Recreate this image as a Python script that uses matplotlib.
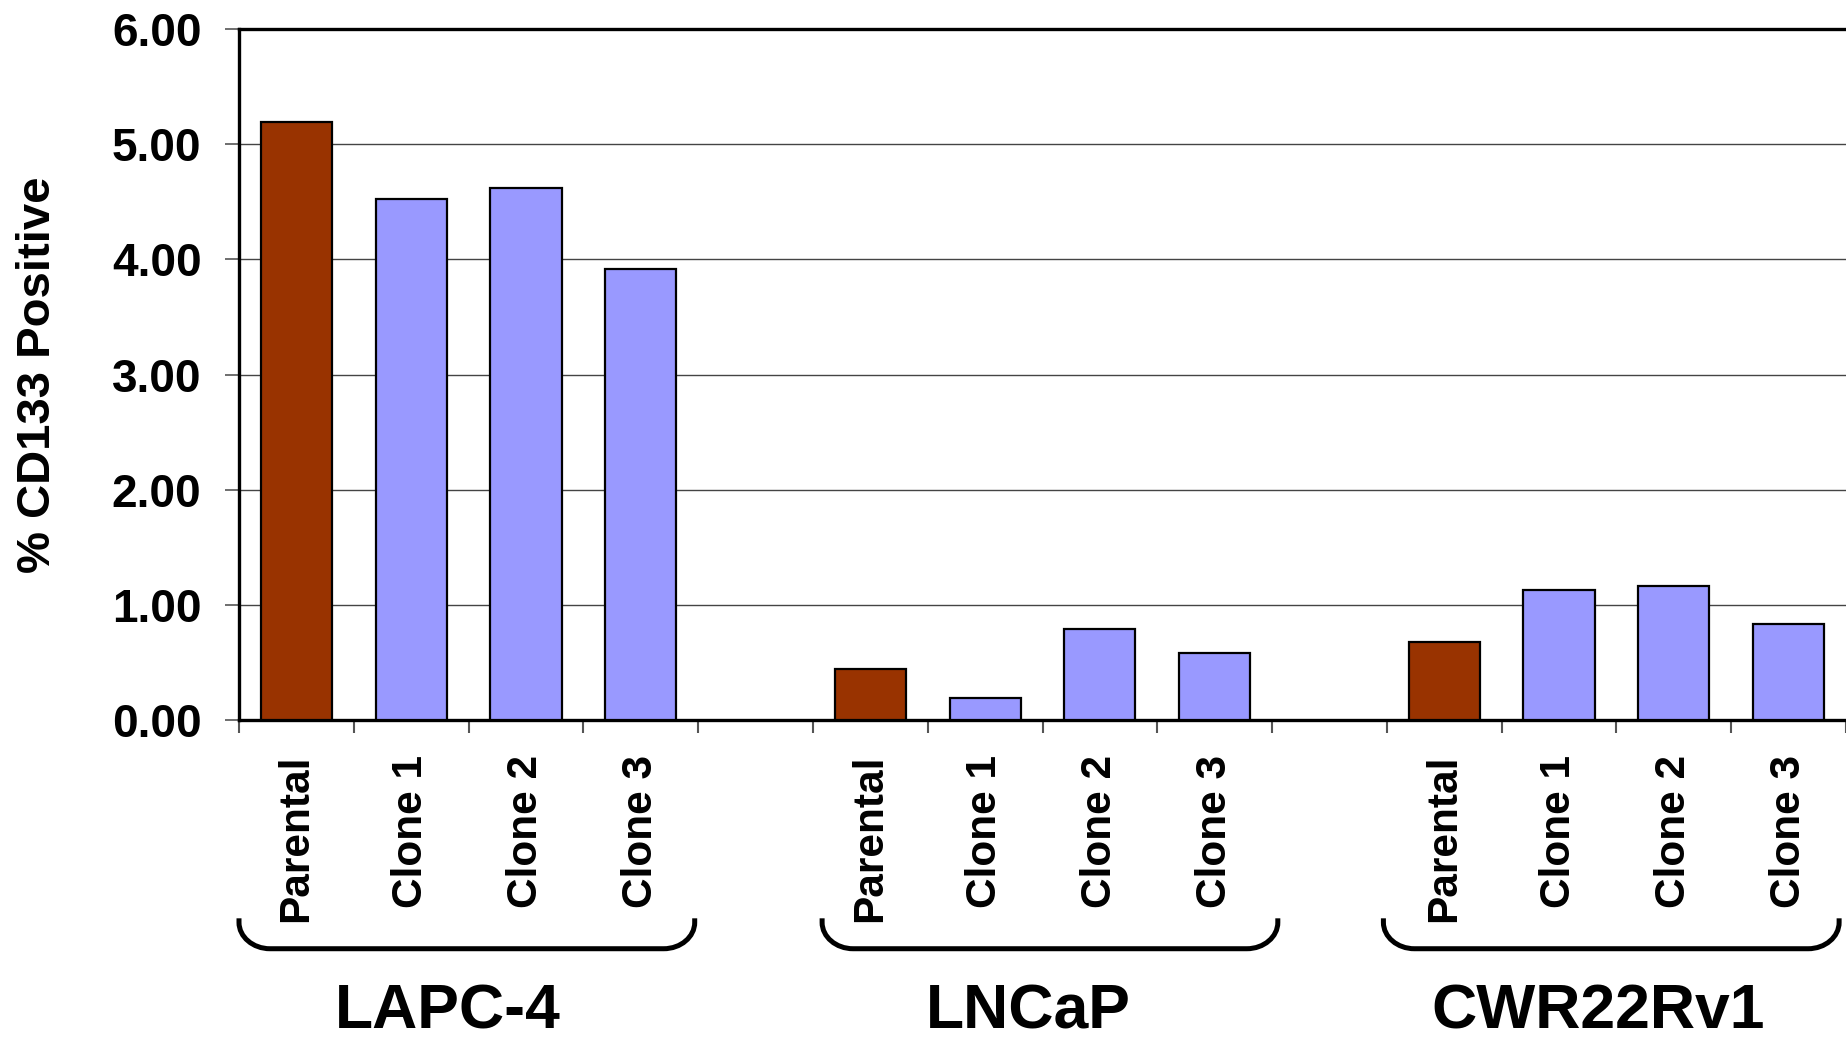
import matplotlib.pyplot as plt
from matplotlib.path import Path
from matplotlib.patches import PathPatch

plt.rcParams["font.family"] = ["Liberation Sans", "DejaVu Sans"]
plt.rcParams["font.weight"] = "bold"

groups = ["LAPC-4", "LNCaP", "CWR22Rv1"]
samples = ["Parental", "Clone 1", "Clone 2", "Clone 3"]
lapc4 = [5.19, 4.52, 4.62, 3.92]
lncap = [0.44, 0.19, 0.79, 0.585]
cwr22rv1 = [0.68, 1.13, 1.16, 0.83]
yticks = [0, 1, 2, 3, 4, 5, 6]

PARENTAL = "#993300"
CLONE = "#9999FF"

# bracket start and label shift (data x) for each group
bracket_x0 = [-0.5, 4.58, 9.47]
label_shift = [-0.18, -0.12, -0.16]

fig = plt.figure(figsize=(18.46, 10.39), dpi=100)
ax = fig.add_axes([239 / 1846, 1 - 720 / 1039, 1 - 239 / 1846, (720 - 29) / 1039])

# each group takes 4 slots, followed by one empty slot
positions, labels = [], []
for g, vals in enumerate([lapc4, lncap, cwr22rv1]):
    xs = [g * 5 + i for i in range(len(samples))]
    colors = [PARENTAL] + [CLONE] * (len(samples) - 1)
    ax.bar(xs, vals, width=0.62, color=colors, edgecolor="black", linewidth=1.6, zorder=3)
    positions += xs
    labels += samples

ax.set_xlim(-0.5, -0.5 + (1846 - 239) / 116.1)
ax.set_ylim(0, 6)
ax.set_yticks(yticks)
ax.set_yticklabels([f"{v:.2f}" for v in yticks], fontsize=33, fontweight="bold")
ax.yaxis.grid(True, color="#444444", linewidth=1.0, zorder=0)
ax.tick_params(axis="y", length=10, width=1.2, color="#555555", pad=17, direction="out")

# boundary ticks between categories, labels at the centres
ax.set_xticks([x - 0.5 for x in range(15)])
ax.set_xticklabels([])
ax.tick_params(axis="x", which="major", length=9, width=1.5, color="#555555", direction="out")
ax.set_xticks(positions, minor=True)
ax.set_xticklabels(labels, minor=True, rotation=90, va="top", ha="center",
                   fontsize=30.5, fontweight="bold")
ax.tick_params(axis="x", which="minor", length=0, pad=25)

for side in ["left", "bottom", "top"]:
    ax.spines[side].set_linewidth(2.4)
    ax.spines[side].set_color("black")
ax.spines["right"].set_visible(False)

fig.text(38 / 1846, 1 - 374.5 / 1039, "% CD133 Positive", rotation=90, ha="center",
         va="center", fontsize=34, fontweight="bold")

# group brackets and names below the tick labels
trans = ax.get_xaxis_transform()
y_top, y_bot = -0.287, -0.331
rx, ry = 0.27, 0.038
k = 0.55
for g, name in enumerate(groups):
    x0 = bracket_x0[g]
    x1 = x0 + 3.97
    verts = [
        (x0, y_top), (x0, y_bot + ry),
        (x0, y_bot + ry * (1 - k)), (x0 + rx * (1 - k), y_bot), (x0 + rx, y_bot),
        (x1 - rx, y_bot),
        (x1 - rx * (1 - k), y_bot), (x1, y_bot + ry * (1 - k)), (x1, y_bot + ry),
        (x1, y_top),
    ]
    codes = [Path.MOVETO, Path.LINETO, Path.CURVE4, Path.CURVE4, Path.CURVE4,
             Path.LINETO, Path.CURVE4, Path.CURVE4, Path.CURVE4, Path.LINETO]
    ax.add_patch(PathPatch(Path(verts, codes), transform=trans, fill=False,
                           edgecolor="black", linewidth=3.6, clip_on=False,
                           capstyle="butt", joinstyle="round"))
    ax.text(g * 5 + 1.5 + label_shift[g], -0.4226, name, transform=trans, ha="center",
            va="center", fontsize=45, fontweight="bold", clip_on=False)

fig.savefig("out.png", dpi=100)
